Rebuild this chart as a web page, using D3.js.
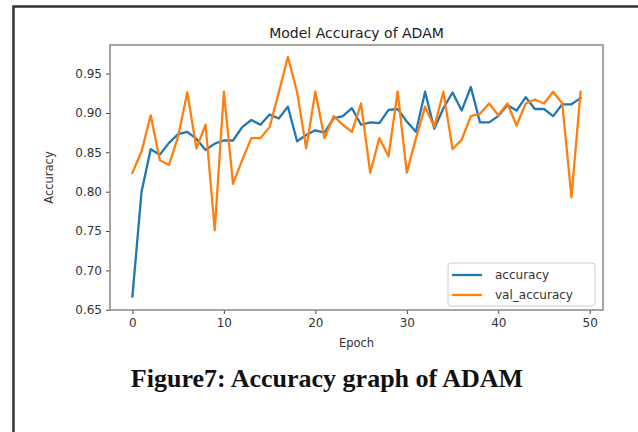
<!DOCTYPE html>
<html>
<head>
<meta charset="utf-8">
<script src="https://cdn.jsdelivr.net/npm/d3@7"></script>
<style>
  body { margin: 0; background: #fff; }
  svg { display: block; }
</style>
</head>
<body>
<div id="chart"></div>
<script>
// values
var epochs = d3.range(50);
var accuracy = [0.667, 0.800, 0.854, 0.847, 0.862, 0.873, 0.876, 0.867, 0.853, 0.861,
                0.865, 0.865, 0.882, 0.891, 0.885, 0.898, 0.893, 0.908, 0.864, 0.872,
                0.878, 0.875, 0.893, 0.896, 0.906, 0.885, 0.888, 0.887, 0.904, 0.905,
                0.889, 0.876, 0.927, 0.880, 0.906, 0.926, 0.903, 0.933, 0.888, 0.888,
                0.896, 0.910, 0.903, 0.920, 0.905, 0.905, 0.896, 0.911, 0.911, 0.919];
var valAccuracy = [0.824, 0.851, 0.897, 0.840, 0.834, 0.870, 0.926, 0.855, 0.885, 0.751,
                   0.927, 0.810, 0.840, 0.868, 0.868, 0.882, 0.926, 0.971, 0.927, 0.855,
                   0.927, 0.868, 0.896, 0.885, 0.876, 0.912, 0.824, 0.868, 0.845, 0.927,
                   0.824, 0.868, 0.908, 0.882, 0.927, 0.854, 0.866, 0.896, 0.899, 0.912,
                   0.897, 0.912, 0.884, 0.912, 0.917, 0.912, 0.927, 0.912, 0.793, 0.927];
var yTicks = [0.65, 0.70, 0.75, 0.80, 0.85, 0.90, 0.95];
var xTicks = [0, 10, 20, 30, 40, 50];
var seriesNames = ["accuracy", "val_accuracy"];
var colors = ["#1f77b4", "#ff7f0e"];

var W = 638, H = 432;
var pL = 110, pR = 603, pT = 45, pB = 310;

var svg = d3.select("#chart").append("svg")
    .attr("width", W).attr("height", H);

// outer frame of the document page
svg.append("path")
    .attr("d", "M13.5," + H + " V6.5 H" + W)
    .attr("fill", "none").attr("stroke", "#333").attr("stroke-width", 2.5);

var x = d3.scaleLinear().domain([-2.45, 51.45]).range([pL, pR]);
var y = d3.scaleLinear().domain([0.6497, 0.9863]).range([pB, pT]);

var g = svg.append("g");

var line = d3.line()
    .x(function(d, i) { return x(epochs[i]); })
    .y(function(d) { return y(d); });

[accuracy, valAccuracy].forEach(function(s, k) {
  g.append("path")
      .datum(s)
      .attr("d", line)
      .attr("fill", "none")
      .attr("stroke", colors[k])
      .attr("stroke-width", 2.3)
      .attr("stroke-linejoin", "round")
      .attr("stroke-linecap", "square");
});

// axes
var xAxis = svg.append("g")
    .attr("transform", "translate(0," + pB + ")")
    .call(d3.axisBottom(x).tickValues(xTicks).tickFormat(d3.format("d")).tickSize(4).tickPadding(4));
var yAxis = svg.append("g")
    .attr("transform", "translate(" + pL + ",0)")
    .call(d3.axisLeft(y).tickValues(yTicks).tickFormat(d3.format(".2f")).tickSize(4).tickPadding(4));
[xAxis, yAxis].forEach(function(a) {
  a.select(".domain").remove();
  a.selectAll("line").attr("stroke", "#444");
  a.selectAll("text").attr("font-family", "DejaVu Sans").attr("font-size", 12).attr("fill", "#333");
});

// plot box
svg.append("rect")
    .attr("x", pL).attr("y", pT)
    .attr("width", pR - pL).attr("height", pB - pT)
    .attr("fill", "none").attr("stroke", "#888").attr("stroke-width", 1.5);

// title and axis labels
svg.append("text")
    .attr("x", (pL + pR) / 2).attr("y", 38)
    .attr("text-anchor", "middle")
    .attr("font-family", "DejaVu Sans").attr("font-size", 14).attr("fill", "#222")
    .text("Model Accuracy of ADAM");
svg.append("text")
    .attr("x", (pL + pR) / 2).attr("y", 347)
    .attr("text-anchor", "middle")
    .attr("font-family", "DejaVu Sans").attr("font-size", 11.5).attr("fill", "#333")
    .text("Epoch");
svg.append("text")
    .attr("transform", "translate(53," + (pT + pB) / 2 + ") rotate(-90)")
    .attr("text-anchor", "middle")
    .attr("font-family", "DejaVu Sans").attr("font-size", 11.5).attr("fill", "#333")
    .text("Accuracy");

// legend
var lg = svg.append("g").attr("transform", "translate(448,263)");
lg.append("rect")
    .attr("width", 147).attr("height", 43).attr("rx", 3)
    .attr("fill", "#fff").attr("stroke", "#ccc");
seriesNames.forEach(function(n, k) {
  var yy = 12 + k * 20;
  lg.append("line")
      .attr("x1", 4).attr("x2", 34).attr("y1", yy).attr("y2", yy)
      .attr("stroke", colors[k]).attr("stroke-width", 2.3);
  lg.append("text")
      .attr("x", 47).attr("y", yy + 4)
      .attr("font-family", "DejaVu Sans").attr("font-size", 12).attr("fill", "#333")
      .text(n);
});

// caption
svg.append("text")
    .attr("x", 327).attr("y", 387)
    .attr("text-anchor", "middle")
    .attr("font-family", "Liberation Serif").attr("font-weight", "bold")
    .attr("font-size", 26).attr("fill", "#111")
    .text("Figure7: Accuracy graph of ADAM");
</script>
</body>
</html>
